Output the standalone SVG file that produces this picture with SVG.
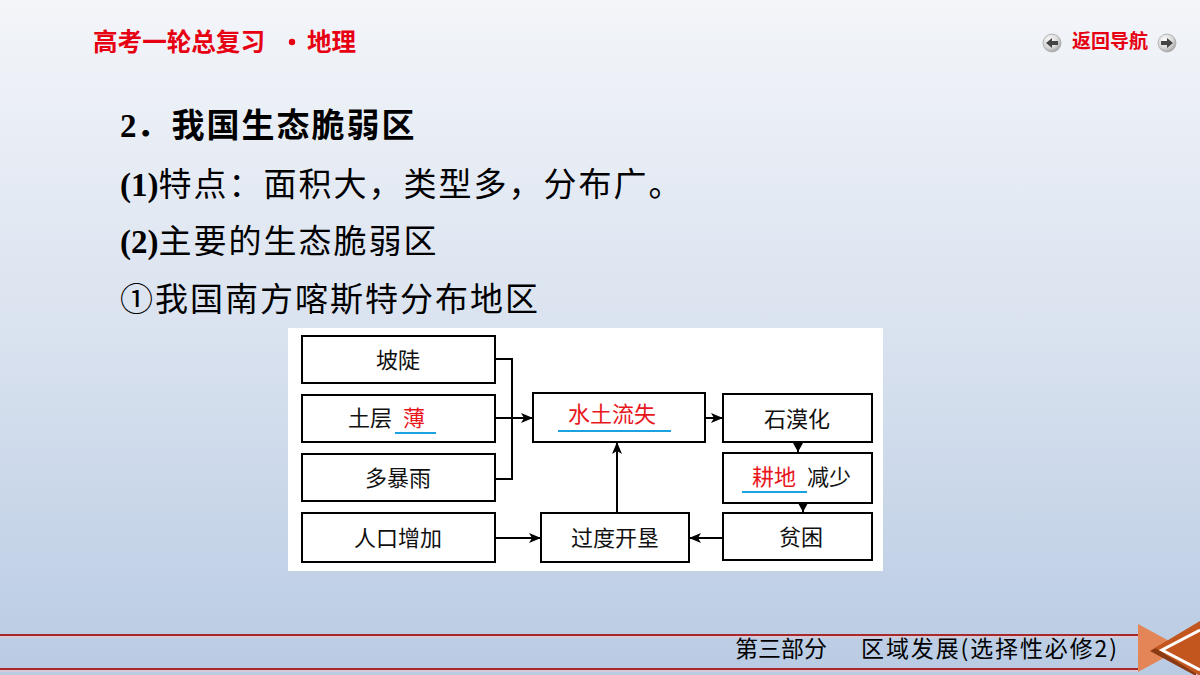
<svg xmlns="http://www.w3.org/2000/svg" width="1200" height="675" viewBox="0 0 1200 675">
<defs>
<linearGradient id="bg" x1="0" y1="0" x2="0" y2="1">
<stop offset="0" stop-color="#f3f5f9"/>
<stop offset="0.5" stop-color="#d9e2ef"/>
<stop offset="1" stop-color="#b9cbe3"/>
</linearGradient>
<radialGradient id="btn" cx="0.4" cy="0.35" r="0.7">
<stop offset="0" stop-color="#ffffff"/>
<stop offset="0.6" stop-color="#d8d8d8"/>
<stop offset="1" stop-color="#9a9a9a"/>
</radialGradient>
<marker id="ah" markerWidth="12" markerHeight="10" refX="11" refY="5" orient="auto" markerUnits="userSpaceOnUse">
<path d="M0,0 L12,5 L0,10 L3,5 Z" fill="#000"/>
</marker>
<marker id="ahs" markerWidth="9" markerHeight="10" refX="9" refY="5" orient="auto" markerUnits="userSpaceOnUse">
<path d="M0,0 L9,5 L0,10 Z" fill="#000"/>
</marker>
</defs>
<style>
.hdr{font-family:"Noto Sans CJK SC",sans-serif;font-weight:bold;fill:#e60012;}
.body{font-family:"Liberation Serif","Noto Sans CJK SC",serif;font-size:33px;fill:#000;}
.cj{letter-spacing:2px;}
.box{fill:#fff;stroke:#000;stroke-width:2;}
.lbl{font-family:"Noto Sans CJK SC",sans-serif;font-size:22px;fill:#111;}
.red{fill:#e8161d;}
.ul{stroke:#1aa3e0;stroke-width:2;}
.con{fill:none;stroke:#000;stroke-width:2;}
.foot{font-family:"Noto Sans CJK SC",sans-serif;font-size:23px;fill:#000;}
</style>
<rect x="0" y="0" width="1200" height="675" fill="url(#bg)"/>

<g id="header">
<text class="hdr" x="93" y="51" font-size="24.5" textLength="172" lengthAdjust="spacingAndGlyphs">高考一轮总复习</text>
<circle cx="292" cy="42" r="3.2" fill="#e60012"/>
<text class="hdr" x="307" y="51" font-size="24.5">地理</text>
</g>
<g id="nav">
<circle cx="1052" cy="43" r="9" fill="url(#btn)" stroke="#aaa" stroke-width="0.8"/>
<path d="M1046,43 L1052,38 L1052,41 L1058,41 L1058,45 L1052,45 L1052,48 Z" fill="#444"/>
<text class="hdr" x="1072" y="48" font-size="19" font-weight="normal">返回导航</text>
<circle cx="1167" cy="43" r="9" fill="url(#btn)" stroke="#aaa" stroke-width="0.8"/>
<path d="M1173,43 L1167,38 L1167,41 L1161,41 L1161,45 L1167,45 L1167,48 Z" fill="#444"/>
</g>

<g id="body-text">
<text class="body" x="120" y="137" font-weight="bold">2<tspan class="cj">．我国生态脆弱区</tspan></text>
<text class="body" x="120" y="196"><tspan font-weight="bold">(1)</tspan><tspan class="cj">特点：面积大，类型多，分布广。</tspan></text>
<text class="body" x="120" y="253"><tspan font-weight="bold">(2)</tspan><tspan class="cj">主要的生态脆弱区</tspan></text>
<text class="body cj" x="120" y="311">①我国南方喀斯特分布地区</text>
</g>

<rect id="panel" x="288" y="328" width="595" height="243" fill="#fff"/>

<g id="connectors">
<polyline class="con" points="495,359 512,359 512,479 495,479"/>
<line class="con" x1="495" y1="418" x2="532" y2="418" marker-end="url(#ah)"/>
<line class="con" x1="705" y1="418" x2="722" y2="418" marker-end="url(#ah)"/>
<line class="con" x1="798" y1="442" x2="798" y2="452" marker-end="url(#ahs)"/>
<line class="con" x1="803" y1="503" x2="803" y2="512" marker-end="url(#ahs)"/>
<line class="con" x1="723" y1="538" x2="690" y2="538" marker-end="url(#ah)"/>
<line class="con" x1="495" y1="538" x2="540" y2="538" marker-end="url(#ah)"/>
<line class="con" x1="617" y1="513" x2="617" y2="443" marker-end="url(#ah)"/>
</g>

<g id="n-podou">
<rect class="box" x="302" y="336" width="193" height="47"/>
<text class="lbl" x="398" y="368" text-anchor="middle">坡陡</text>
</g>
<g id="n-tucengbo">
<rect class="box" x="302" y="395" width="193" height="47"/>
<text class="lbl" x="348" y="426">土层</text>
<text class="lbl red" x="403" y="426">薄</text>
<line class="ul" x1="395" y1="433" x2="436" y2="433"/>
</g>
<g id="n-duobaoyu">
<rect class="box" x="302" y="454" width="193" height="47"/>
<text class="lbl" x="398" y="486" text-anchor="middle">多暴雨</text>
</g>
<g id="n-renkou">
<rect class="box" x="302" y="513" width="193" height="49"/>
<text class="lbl" x="398" y="546" text-anchor="middle">人口增加</text>
</g>
<g id="n-shuitu">
<rect class="box" x="533" y="393" width="172" height="49"/>
<text class="lbl red" x="612" y="422" text-anchor="middle">水土流失</text>
<line class="ul" x1="558" y1="431" x2="671" y2="431"/>
</g>
<g id="n-guodu">
<rect class="box" x="541" y="513" width="148" height="49"/>
<text class="lbl" x="615" y="546" text-anchor="middle">过度开垦</text>
</g>
<g id="n-shimo">
<rect class="box" x="723" y="394" width="149" height="48"/>
<text class="lbl" x="797" y="427" text-anchor="middle">石漠化</text>
</g>
<g id="n-gengdi">
<rect class="box" x="723" y="453" width="149" height="50"/>
<text class="lbl red" x="752" y="485">耕地</text>
<text class="lbl" x="807" y="485">减少</text>
<line class="ul" x1="742" y1="492" x2="807" y2="492"/>
</g>
<g id="n-pinkun">
<rect class="box" x="723" y="513" width="149" height="47"/>
<text class="lbl" x="801" y="545" text-anchor="middle">贫困</text>
</g>

<g id="footer">
<line x1="0" y1="635" x2="1140" y2="635" stroke="#a8282c" stroke-width="2"/>
<line x1="0" y1="669" x2="1140" y2="669" stroke="#a8282c" stroke-width="2"/>
<line x1="0" y1="637" x2="1140" y2="637" stroke="#f0c8c8" stroke-width="1"/>
<line x1="0" y1="671" x2="1140" y2="671" stroke="#f0c8c8" stroke-width="1"/>
<text class="foot" x="735" y="657">第三部分</text>
<text class="foot" x="861" y="657" textLength="256" lengthAdjust="spacing">区域发展(选择性必修2)</text>
<polygon points="1138,624 1138,672 1182,648" fill="#e38557"/>
<polygon points="1150,651 1196,624 1196,676" fill="#8a3a12"/>
<polygon points="1155,648 1200,621 1200,676" fill="#c3561f"/>
<polyline points="1200,630 1162,650 1200,670" fill="none" stroke="#fff" stroke-width="3"/>
</g>
</svg>
